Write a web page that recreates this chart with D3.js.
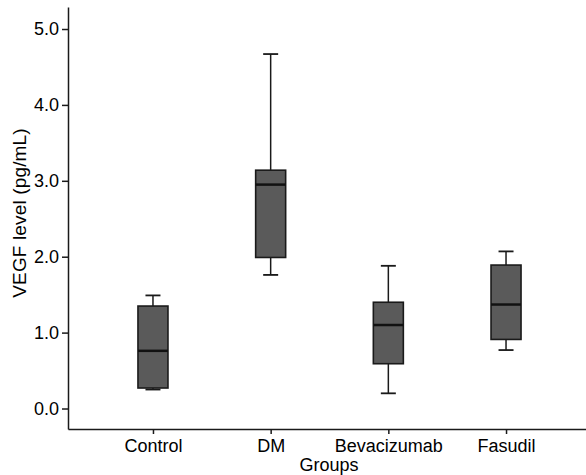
<!DOCTYPE html>
<html>
<head>
<meta charset="utf-8">
<script src="https://cdn.jsdelivr.net/npm/d3@7"></script>
<style>
  body { margin: 0; background: #fff; }
  svg text { font-family: "Liberation Sans", Arial, sans-serif; fill: #000; }
</style>
</head>
<body>
<div id="chart"></div>
<script>
// groups and box statistics
var groups = ["Control", "DM", "Bevacizumab", "Fasudil"];
var whiskerLow  = [0.25, 1.76, 0.20, 0.77];
var q1          = [0.27, 1.99, 0.59, 0.91];
var median      = [0.76, 2.95, 1.10, 1.37];
var q3          = [1.35, 3.14, 1.40, 1.89];
var whiskerHigh = [1.49, 4.67, 1.88, 2.07];
var yTicks = [0, 1, 2, 3, 4, 5];

var width = 586, height = 475;

var svg = d3.select("#chart")
    .append("svg")
    .attr("width", width)
    .attr("height", height);

// scales
var x = d3.scalePoint()
    .domain(groups)
    .range([68, 591])
    .padding(0.722);

var y = d3.scaleLinear()
    .domain([-0.27, 5.29])
    .range([429, 7]);

var boxW = 30, capW = 15;

var data = groups.map(function(g, i) {
    return {g: g, lo: whiskerLow[i], q1: q1[i], med: median[i], q3: q3[i], hi: whiskerHigh[i]};
});

var boxes = svg.selectAll("g.box")
    .data(data)
  .enter().append("g")
    .attr("class", "box");

// upper whisker
boxes.append("line")
    .attr("x1", function(d) { return x(d.g); })
    .attr("x2", function(d) { return x(d.g); })
    .attr("y1", function(d) { return y(d.q3); })
    .attr("y2", function(d) { return y(d.hi); })
    .attr("stroke", "#1a1a1a").attr("stroke-width", 1.5);

// lower whisker
boxes.append("line")
    .attr("x1", function(d) { return x(d.g); })
    .attr("x2", function(d) { return x(d.g); })
    .attr("y1", function(d) { return y(d.q1); })
    .attr("y2", function(d) { return y(d.lo); })
    .attr("stroke", "#1a1a1a").attr("stroke-width", 1.5);

// caps
boxes.append("line")
    .attr("x1", function(d) { return x(d.g) - capW / 2; })
    .attr("x2", function(d) { return x(d.g) + capW / 2; })
    .attr("y1", function(d) { return y(d.hi); })
    .attr("y2", function(d) { return y(d.hi); })
    .attr("stroke", "#1a1a1a").attr("stroke-width", 1.8);

boxes.append("line")
    .attr("x1", function(d) { return x(d.g) - capW / 2; })
    .attr("x2", function(d) { return x(d.g) + capW / 2; })
    .attr("y1", function(d) { return y(d.lo); })
    .attr("y2", function(d) { return y(d.lo); })
    .attr("stroke", "#1a1a1a").attr("stroke-width", 1.8);

// box
boxes.append("rect")
    .attr("x", function(d) { return x(d.g) - boxW / 2; })
    .attr("width", boxW)
    .attr("y", function(d) { return y(d.q3); })
    .attr("height", function(d) { return y(d.q1) - y(d.q3); })
    .attr("fill", "#5a5a5a")
    .attr("stroke", "#1a1a1a")
    .attr("stroke-width", 1.6);

// median
boxes.append("line")
    .attr("x1", function(d) { return x(d.g) - boxW / 2; })
    .attr("x2", function(d) { return x(d.g) + boxW / 2; })
    .attr("y1", function(d) { return y(d.med); })
    .attr("y2", function(d) { return y(d.med); })
    .attr("stroke", "#111").attr("stroke-width", 2.5);

// axes
var yAxis = d3.axisLeft(y)
    .tickValues(yTicks)
    .tickFormat(d3.format(".1f"))
    .tickSize(6)
    .tickSizeOuter(0)
    .tickPadding(3);

var xAxis = d3.axisBottom(x)
    .tickSize(5)
    .tickSizeOuter(0)
    .tickPadding(5);

var gy = svg.append("g")
    .attr("transform", "translate(68,0)")
    .call(yAxis);

var gx = svg.append("g")
    .attr("transform", "translate(0,429)")
    .call(xAxis);

[gx, gy].forEach(function(g) {
    g.selectAll("path, line").attr("stroke", "#1a1a1a").attr("stroke-width", 1.5);
    g.selectAll("text")
        .style("font-size", "18px")
        .attr("fill", "#000");
});

// axis titles
svg.append("text")
    .attr("x", 329)
    .attr("y", 471)
    .attr("text-anchor", "middle")
    .style("font-size", "18px")
    .text("Groups");

svg.append("text")
    .attr("transform", "translate(26,213) rotate(-90)")
    .attr("text-anchor", "middle")
    .style("font-size", "19px")
    .style("letter-spacing", "0.15px")
    .text("VEGF level (pg/mL)");
</script>
</body>
</html>
